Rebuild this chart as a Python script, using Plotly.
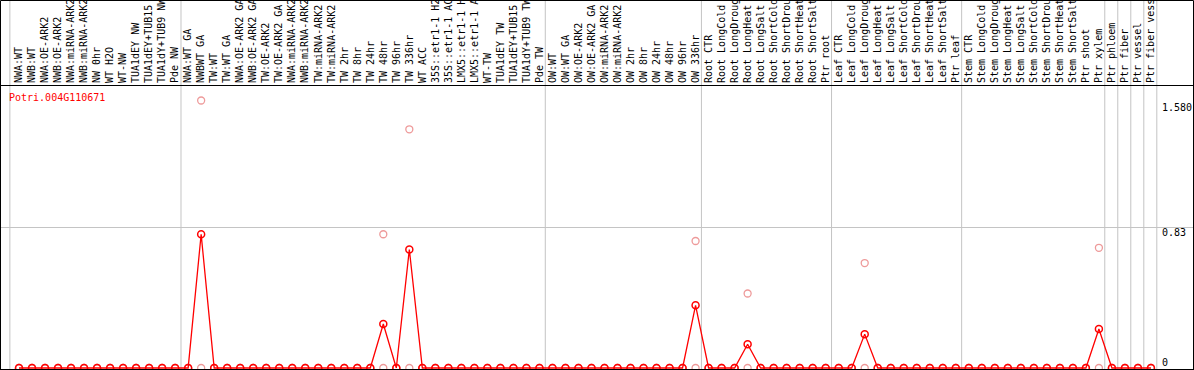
import plotly.graph_objects as go

gene = "Potri.004G110671"

samples = [
    "NWA:WT", "NWB:WT", "NWA:OE-ARK2", "NWB:OE-ARK2", "NWA:miRNA-ARK2", "NWB:miRNA-ARK2",
    "NW 0hr", "WT H2O", "WT-NW", "TUA1dEY NW", "TUA1dEY+TUB15 NW", "TUA1dY+TUB9 NW", "Pde NW",
    "NWA:WT GA", "NWBWT GA", "TW:WT", "TW:WT GA", "NWA:OE-ARK2 GA", "NWB:OE-ARK2 GA",
    "TW:OE-ARK2", "TW:OE-ARK2 GA", "NWA:miRNA-ARK2", "NWB:miRNA-ARK2", "TW:miRNA-ARK2",
    "TW:miRNA-ARK2", "TW 2hr", "TW 8hr", "TW 24hr", "TW 48hr", "TW 96hr", "TW 336hr",
    "WT ACC", "35S::etr1-1 H2O", "35S::etr1-1 ACC", "LMX5::etr1-1 H2O", "LMX5::etr1-1 ACC",
    "WT-TW", "TUA1dEY TW", "TUA1dEY+TUB15 TW", "TUA1dY+TUB9 TW", "Pde TW",
    "OW:WT", "OW:WT GA", "OW:OE-ARK2", "OW:OE-ARK2 GA", "OW:miRNA-ARK2", "OW:miRNA-ARK2",
    "OW 2hr", "OW 8hr", "OW 24hr", "OW 48hr", "OW 96hr", "OW 336hr",
    "Root CTR", "Root LongCold", "Root LongDrought", "Root LongHeat", "Root LongSalt",
    "Root ShortCold", "Root ShortDrought", "Root ShortHeat", "Root ShortSalt", "Ptr root",
    "Leaf CTR", "Leaf LongCold", "Leaf LongDrought", "Leaf LongHeat", "Leaf LongSalt",
    "Leaf ShortCold", "Leaf ShortDrought", "Leaf ShortHeat", "Leaf ShortSalt", "Ptr leaf",
    "Stem CTR", "Stem LongCold", "Stem LongDrought", "Stem LongHeat", "Stem LongSalt",
    "Stem ShortCold", "Stem ShortDrought", "Stem ShortHeat", "Stem ShortSalt", "Ptr shoot",
    "Ptr xylem", "Ptr phloem", "Ptr fiber", "Ptr vessel", "Ptr fiber vessel",
]

# mean expression (red line)
mean_values = [
    0, 0, 0, 0, 0, 0, 0, 0, 0, 0, 0, 0, 0,
    0, 0.79, 0, 0, 0, 0, 0, 0, 0, 0, 0, 0, 0, 0, 0, 0.26, 0, 0.70,
    0, 0, 0, 0, 0, 0, 0, 0, 0, 0,
    0, 0, 0, 0, 0, 0, 0, 0, 0, 0, 0, 0.37,
    0, 0, 0, 0.14, 0, 0, 0, 0, 0, 0,
    0, 0, 0.20, 0, 0, 0, 0, 0, 0, 0,
    0, 0, 0, 0, 0, 0, 0, 0, 0, 0,
    0.23, 0, 0, 0, 0,
]

# individual replicates (pink circles)
rep_a = [
    0, 0, 0, 0, 0, 0, 0, 0, 0, 0, 0, 0, 0,
    0, 1.58, 0, 0, 0, 0, 0, 0, 0, 0, 0, 0, 0, 0, 0, 0.79, 0, 1.41,
    0, 0, 0, 0, 0, 0, 0, 0, 0, 0,
    0, 0, 0, 0, 0, 0, 0, 0, 0, 0, 0, 0.75,
    0, 0, 0, 0.44, 0, 0, 0, 0, 0, 0,
    0, 0, 0.62, 0, 0, 0, 0, 0, 0, 0,
    0, 0, 0, 0, 0, 0, 0, 0, 0, 0,
    0.71, 0, 0, 0, 0,
]
rep_b = [
    0, 0, 0, 0, 0, 0, 0, 0, 0, 0, 0, 0, 0,
    0, 0, 0, 0, 0, 0, 0, 0, 0, 0, 0, 0, 0, 0, 0, 0, 0, 0,
    0, 0, 0, 0, 0, 0, 0, 0, 0, 0,
    0, 0, 0, 0, 0, 0, 0, 0, 0, 0, 0, 0,
    0, 0, 0, 0, 0, 0, 0, 0, 0, 0,
    0, 0, 0, 0, 0, 0, 0, 0, 0, 0,
    0, 0, 0, 0, 0, 0, 0, 0, 0, 0,
    0, 0, 0, 0, 0,
]

# group boundaries (between sample indices)
separators = [-0.7, 12.45, 40.45, 52.45, 62.45, 72.45, 83.45, 84.45, 85.45, 86.45, 87.45]

y_ticks = [0, 0.83, 1.58]
y_tick_text = ["0", "0.83", "1.580"]

W, H = 1194, 370
ML, MR, MT, MB = 1, 1, 86, 1
plot_w = W - ML - MR
plot_h = H - MT - MB
px_per_cat = 13.011
x0 = -(19 - ML) / px_per_cat
x1 = x0 + plot_w / px_per_cat
px_per_unit = 169.3
y0 = -1 / px_per_unit
y1 = y0 + plot_h / px_per_unit

xs = list(range(len(samples)))
FONT = "DejaVu Sans Mono"

fig = go.Figure()
fig.add_trace(go.Scatter(
    x=xs + xs, y=rep_a + rep_b, mode="markers",
    marker=dict(symbol="circle-open", size=7, color="#ee9a9a", line=dict(width=1.3, color="#ee9a9a")),
    cliponaxis=False, showlegend=False, hoverinfo="skip",
))
fig.add_trace(go.Scatter(
    x=xs, y=mean_values, mode="lines+markers",
    line=dict(color="#ff0000", width=1.3),
    marker=dict(symbol="circle-open", size=7, color="#ff0000", line=dict(width=1.5, color="#ff0000")),
    cliponaxis=False, showlegend=False,
))

top_paper = 1 + MT / plot_h
for s in separators:
    fig.add_shape(type="line", xref="x", yref="paper", x0=s, x1=s, y0=0, y1=top_paper,
                  line=dict(color="#c4c4c4", width=1), layer="below")

# outer frame
fig.add_shape(type="rect", xref="paper", yref="paper",
              x0=-0.5 / plot_w, x1=1 + 0.5 / plot_w, y0=-0.5 / plot_h, y1=top_paper - 0.5 / plot_h,
              line=dict(color="black", width=1), fillcolor="rgba(0,0,0,0)")

shifts = [6, -5, -7]
for v, t, sh in zip(y_ticks, y_tick_text, shifts):
    fig.add_annotation(xref="paper", yref="y", x=(1161 - ML) / plot_w, y=v, text=t,
                       showarrow=False, xanchor="left", yanchor="middle", yshift=sh,
                       borderpad=0,
                       font=dict(family=FONT, size=10, color="black"))

fig.add_annotation(xref="paper", yref="paper", x=(7 - ML) / plot_w, y=1, yshift=-4,
                   text=gene, showarrow=False, xanchor="left", yanchor="top",
                   font=dict(family=FONT, size=10, color="#ff0000"))

fig.update_layout(
    template="none",
    width=W, height=H,
    margin=dict(l=ML, r=MR, t=MT, b=MB, pad=0),
    paper_bgcolor="white", plot_bgcolor="white",
    xaxis=dict(range=[x0, x1], side="top", tickmode="array", tickvals=xs, ticktext=samples,
               tickangle=-90, ticks="", showgrid=False, zeroline=False,
               showline=True, mirror=True, linecolor="black", linewidth=1,
               tickfont=dict(family=FONT, size=10, color="black"), automargin=False),
    yaxis=dict(range=[y0, y1], tickmode="array", tickvals=[0.83], showticklabels=False,
               ticks="", showgrid=True, gridcolor="#c4c4c4", gridwidth=1, zeroline=False,
               showline=True, mirror=True, linecolor="black", linewidth=1, automargin=False),
)

fig.write_html("out.html", config={"displayModeBar": False},
               post_script="document.body.style.margin='0';document.body.style.padding='0';")
